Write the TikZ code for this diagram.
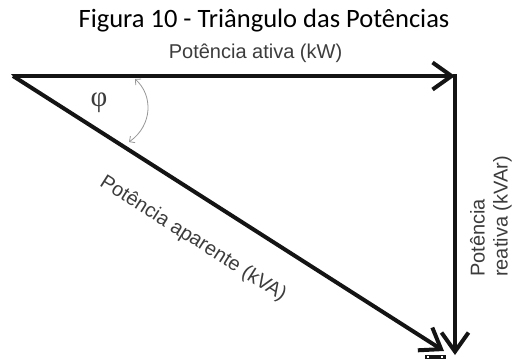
\documentclass[tikz,border=0pt]{standalone}
\usepackage{fontspec}
\setmainfont{Liberation Sans}
\newfontfamily\titlefont{Carlito}
\newfontfamily\phifont{Liberation Serif}
\usetikzlibrary{arrows.meta}
\definecolor{labelgray}{RGB}{60,60,60}
\definecolor{arcgray}{RGB}{150,150,150}
\definecolor{linecol}{RGB}{20,20,20}
\tikzset{
  vec/.style={draw=linecol, line width=4pt, line join=miter,
    -{Straight Barb[length=19pt,width=27pt,line width=4pt]}},
  lbl/.style={text=labelgray, inner sep=0pt, font=\fontsize{20}{23}\selectfont},
  anglearc/.style={draw=arcgray, line width=0.8pt,
    {Straight Barb[length=4pt,width=8pt]}-{Straight Barb[length=4pt,width=8pt]}}
}
\begin{document}
\begin{tikzpicture}[x=1pt,y=-1pt]
\useasboundingbox (0,0) rectangle (512,360);
\coordinate (O) at (13,76);
\coordinate (A) at (455,76);
\coordinate (B) at (455,355);
\coordinate (H) at (444,351);
% title
\node[inner sep=0pt, anchor=base, font=\titlefont\fontsize{26.5}{30}\selectfont] (title) at (264,27) {Figura 10 - Triângulo das Potências};
% vectors
\draw[vec] (O) -- (A);
\draw[vec] ([yshift=2pt]A) -- (B);
\draw[vec] (O) -- (H);
\fill[linecol] (O) ++(-2,-2) -- ++(6,0) -- ++(-2,4) -- cycle;
% small artefact bar
\fill[linecol] (425,355) rectangle (446,359);
\fill[white] (427,356) rectangle (428.5,357.5);
\fill[white] (441,356) rectangle (442.5,357.5);
% labels
\node[lbl, anchor=base] (ativa) at (255.5,58) {Potência ativa (kW)};
\node[lbl, rotate=-32.5] (aparente) at (193,239) {Potência aparente (kVA)};
\node[lbl, rotate=90, anchor=south west, align=left] (reativa) at (512,277) {Potência\\reativa (kVAr)};
% angle
\coordinate (a1) at (135,79);
\coordinate (a2) at (129,142);
\draw[anglearc] (a1) .. controls (153,95) and (153,125) .. (a2);
\node[inner sep=0pt, text=labelgray, font=\phifont\fontsize{29}{29}\selectfont] (phi) at (99,103) {φ};
\end{tikzpicture}
\end{document}
